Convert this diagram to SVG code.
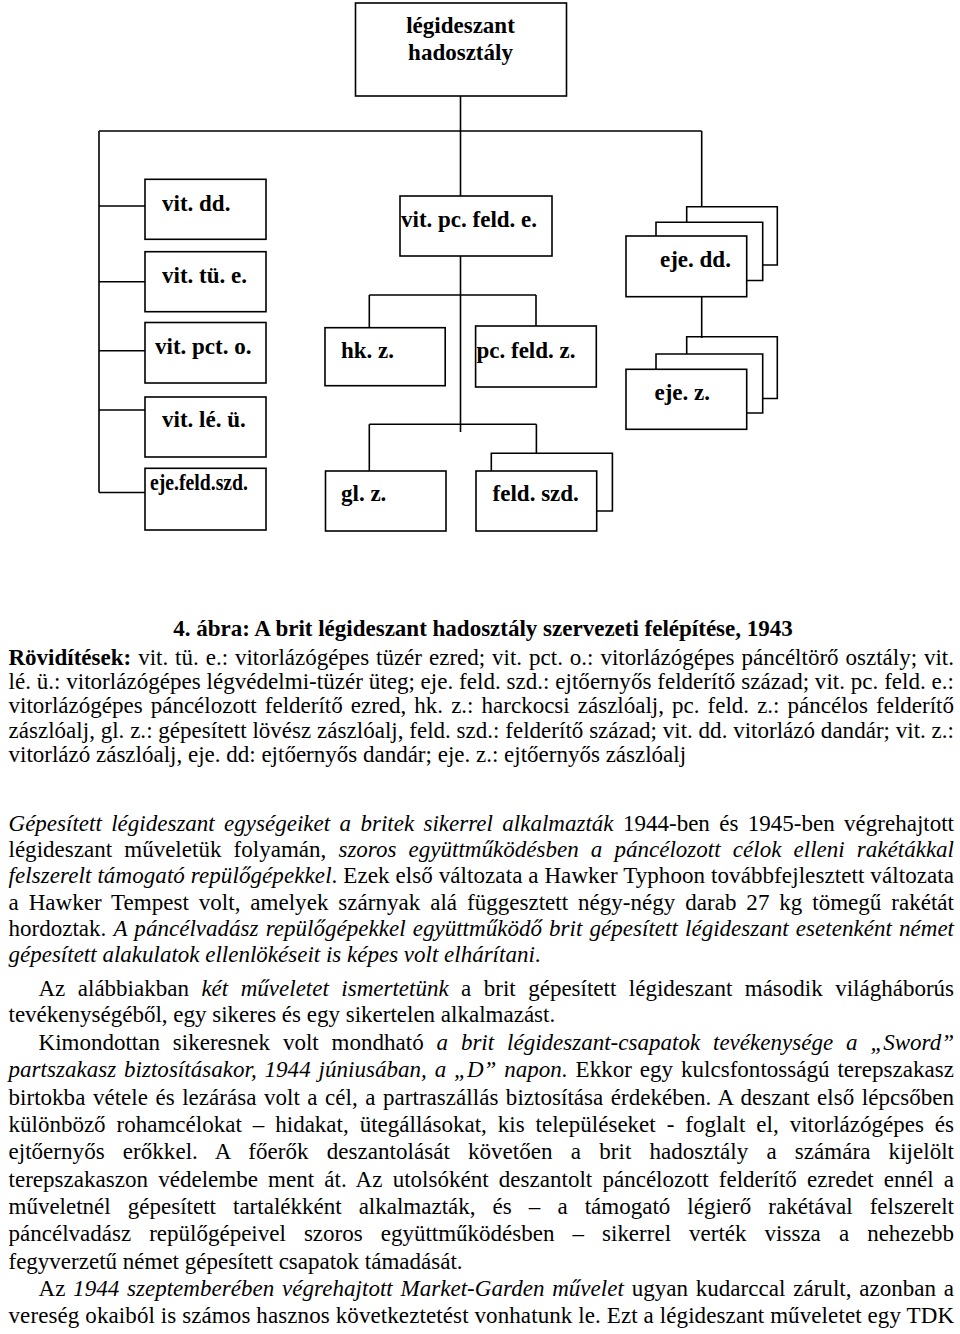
<svg xmlns="http://www.w3.org/2000/svg" width="960" height="1334" viewBox="0 0 960 1334">
<style>
.ln{stroke:#000;stroke-width:1.6;fill:none}
.bx{fill:#fff;stroke:#000;stroke-width:1.6}
.nb{font-family:"Liberation Serif","Times New Roman",serif;font-weight:bold;font-size:23px;fill:#000}
.t{font-family:"Liberation Serif","Times New Roman",serif;font-size:23px;fill:#000}
.i{font-style:italic}
.bd{font-weight:bold}
</style>
<rect x="0" y="0" width="960" height="1334" fill="#fff"/>
<g id="connectors">
<path class="ln" d="M460.5,96V131M99,131H701.7M99,131V492.5M99,206H145M99,281.7H145M99,350.7H145M99,410H145M99,492.5H145"/>
<path class="ln" d="M460.5,131V196M460.5,256V432M369.3,295H536M369.3,295V327.7M536,295V326M369.3,424.3H536.4M369.3,424.3V471M536.4,424.3V453.3"/>
<path class="ln" d="M701.7,131V206.7M701.7,296.7V338"/>
</g>
<g id="n-top"><rect class="bx" x="355.5" y="3" width="211" height="93"/><text class="nb" x="460.5" y="33" text-anchor="middle">légideszant</text><text class="nb" x="460.5" y="60" text-anchor="middle">hadosztály</text></g>
<g id="n-vitdd"><rect class="bx" x="145" y="179.3" width="121" height="60"/><text class="nb" x="162" y="211">vit. dd.</text></g>
<g id="n-vittue"><rect class="bx" x="145" y="251.7" width="121" height="60"/><text class="nb" x="162" y="282.5">vit. tü. e.</text></g>
<g id="n-vitpcto"><rect class="bx" x="145" y="322.5" width="121" height="60.5"/><text class="nb" x="155" y="353.5">vit. pct. o.</text></g>
<g id="n-vitleu"><rect class="bx" x="145" y="397" width="121" height="60"/><text class="nb" x="162" y="427">vit. lé. ü.</text></g>
<g id="n-ejefeldszd"><rect class="bx" x="145" y="468.3" width="121" height="61.7"/><text class="nb" x="150" y="489.5" textLength="98" lengthAdjust="spacingAndGlyphs">eje.feld.szd.</text></g>
<g id="n-vitpcfelde"><rect class="bx" x="400" y="196" width="152" height="60"/><text class="nb" x="401" y="227">vit. pc. feld. e.</text></g>
<g id="n-hkz"><rect class="bx" x="325" y="327.7" width="120.2" height="58"/><text class="nb" x="341" y="358">hk. z.</text></g>
<g id="n-pcfeldz"><rect class="bx" x="475.6" y="326" width="120.7" height="61"/><text class="nb" x="476.5" y="358">pc. feld. z.</text></g>
<g id="n-glz"><rect class="bx" x="325.5" y="471" width="120.5" height="60"/><text class="nb" x="341" y="501">gl. z.</text></g>
<g id="n-feldszd"><path class="ln" d="M491.3,471V453.3H612.4V511H596.7"/><rect class="bx" x="476" y="471" width="120.7" height="60"/><text class="nb" x="492.6" y="501">feld. szd.</text></g>
<g id="n-ejedd"><path class="ln" d="M686.7,222.3V206.7H777.3V265H762.7"/><path class="ln" d="M656,236V222.3H762.7V280.5H746.7"/><rect class="bx" x="626" y="236" width="120.7" height="60.7"/><text class="nb" x="660" y="267">eje. dd.</text></g>
<g id="n-ejez"><path class="ln" d="M686.7,354V336.7H777.3V398.5H762.7"/><path class="ln" d="M656,369.3V354H762.7V413H746.7"/><rect class="bx" x="626" y="369.3" width="120.7" height="60"/><text class="nb" x="654.5" y="400">eje. z.</text></g>
<g id="caption">
<text class="t bd" x="483" y="636" text-anchor="middle">4. ábra: A brit légideszant hadosztály szervezeti felépítése, 1943</text>
<text class="t" x="8.5" y="665" textLength="945.5" lengthAdjust="spacing" word-spacing="1.2"><tspan class="bd">Rövidítések:</tspan> vit. tü. e.: vitorlázógépes tüzér ezred; vit. pct. o.: vitorlázógépes páncéltörő osztály; vit.</text>
<text class="t" x="8.5" y="689" textLength="945.5" lengthAdjust="spacing">lé. ü.: vitorlázógépes légvédelmi-tüzér üteg; eje. feld. szd.: ejtőernyős felderítő század; vit. pc. feld. e.:</text>
<text class="t" x="8.5" y="713" textLength="945.5" lengthAdjust="spacing" word-spacing="2.3">vitorlázógépes páncélozott felderítő ezred, hk. z.: harckocsi zászlóalj, pc. feld. z.: páncélos felderítő</text>
<text class="t" x="8.5" y="738" textLength="945.5" lengthAdjust="spacing">zászlóalj, gl. z.: gépesített lövész zászlóalj, feld. szd.: felderítő század; vit. dd. vitorlázó dandár; vit. z.:</text>
<text class="t" x="8.5" y="762">vitorlázó zászlóalj, eje. dd: ejtőernyős dandár; eje. z.: ejtőernyős zászlóalj</text>
</g>
<g id="body">
<text class="t" x="8.5" y="831" textLength="945.5" lengthAdjust="spacing" word-spacing="3.6"><tspan class="i">Gépesített légideszant egységeiket a britek sikerrel alkalmazták</tspan> 1944-ben és 1945-ben végrehajtott</text>
<text class="t" x="8.5" y="857" textLength="945.5" lengthAdjust="spacing" word-spacing="6.4">légideszant műveletük folyamán, <tspan class="i">szoros együttműködésben a páncélozott célok elleni rakétákkal</tspan></text>
<text class="t" x="8.5" y="883" textLength="945.5" lengthAdjust="spacing"><tspan class="i">felszerelt támogató repülőgépekkel</tspan>. Ezek első változata a Hawker Typhoon továbbfejlesztett változata</text>
<text class="t" x="8.5" y="910" textLength="945.5" lengthAdjust="spacing" word-spacing="4.1">a Hawker Tempest volt, amelyek szárnyak alá függesztett négy-négy darab 27 kg tömegű rakétát</text>
<text class="t" x="8.5" y="936" textLength="945.5" lengthAdjust="spacing" word-spacing="1.4">hordoztak. <tspan class="i">A páncélvadász repülőgépekkel együttműködő brit gépesített légideszant esetenként német</tspan></text>
<text class="t" x="8.5" y="962"><tspan class="i">gépesített alakulatok ellenlökéseit is képes volt elhárítani</tspan>.</text>
<text class="t" x="38.5" y="996" textLength="915.5" lengthAdjust="spacing" word-spacing="6.7">Az alábbiakban <tspan class="i">két műveletet ismertetünk</tspan> a brit gépesített légideszant második világháborús</text>
<text class="t" x="8.5" y="1022">tevékenységéből, egy sikeres és egy sikertelen alkalmazást.</text>
<text class="t" x="38.5" y="1050" textLength="915.5" lengthAdjust="spacing" word-spacing="7.1">Kimondottan sikeresnek volt mondható <tspan class="i">a brit légideszant-csapatok tevékenysége a „Sword”</tspan></text>
<text class="t" x="8.5" y="1077.3" textLength="945.5" lengthAdjust="spacing" word-spacing="2.1"><tspan class="i">partszakasz biztosításakor, 1944 júniusában, a „D” napon.</tspan> Ekkor egy kulcsfontosságú terepszakasz</text>
<text class="t" x="8.5" y="1104.7" textLength="945.5" lengthAdjust="spacing" word-spacing="1.7">birtokba vétele és lezárása volt a cél, a partraszállás biztosítása érdekében. A deszant első lépcsőben</text>
<text class="t" x="8.5" y="1132" textLength="945.5" lengthAdjust="spacing" word-spacing="5.2">különböző rohamcélokat – hidakat, ütegállásokat, kis településeket - foglalt el, vitorlázógépes és</text>
<text class="t" x="8.5" y="1159.3" textLength="945.5" lengthAdjust="spacing" word-spacing="12.4">ejtőernyős erőkkel. A főerők deszantolását követően a brit hadosztály a számára kijelölt</text>
<text class="t" x="8.5" y="1186.7" textLength="945.5" lengthAdjust="spacing" word-spacing="4.4">terepszakaszon védelembe ment át. Az utolsóként deszantolt páncélozott felderítő ezredet ennél a</text>
<text class="t" x="8.5" y="1214" textLength="945.5" lengthAdjust="spacing" word-spacing="11.3">műveletnél gépesített tartalékként alkalmazták, és – a támogató légierő rakétával felszerelt</text>
<text class="t" x="8.5" y="1241.3" textLength="945.5" lengthAdjust="spacing" word-spacing="12.3">páncélvadász repülőgépeivel szoros együttműködésben – sikerrel verték vissza a nehezebb</text>
<text class="t" x="8.5" y="1268.7">fegyverzetű német gépesített csapatok támadását.</text>
<text class="t" x="38.5" y="1296" textLength="915.5" lengthAdjust="spacing" word-spacing="1.9">Az <tspan class="i">1944 szeptemberében végrehajtott Market-Garden művelet</tspan> ugyan kudarccal zárult, azonban a</text>
<text class="t" x="8.5" y="1323.3" textLength="945.5" lengthAdjust="spacing">vereség okaiból is számos hasznos következtetést vonhatunk le. Ezt a légideszant műveletet egy TDK</text>
</g>
</svg>
